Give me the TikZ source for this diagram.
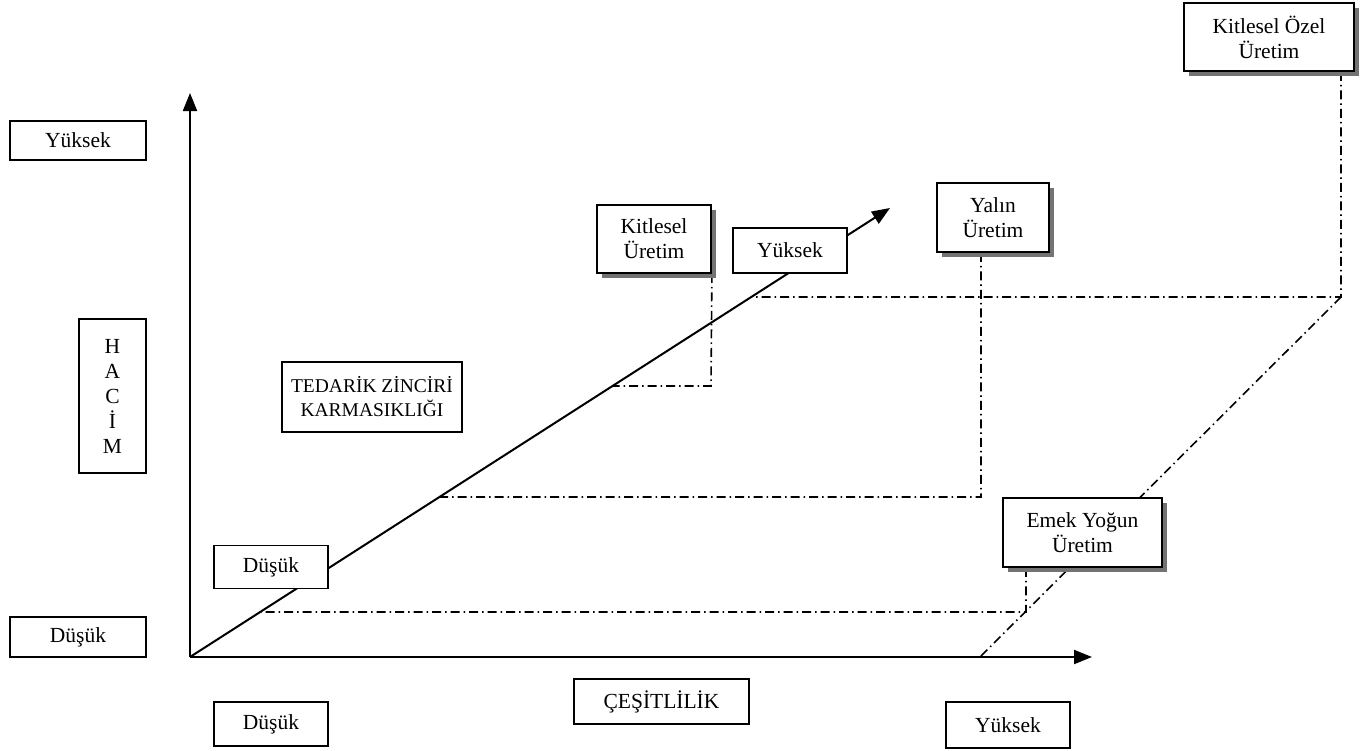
\documentclass[tikz,border=0pt]{standalone}
\usepackage{fontspec}
\setmainfont{Liberation Serif}
\usetikzlibrary{arrows.meta,shadows,backgrounds}
\begin{document}
\begin{tikzpicture}[x=1pt,y=-1pt,
  box/.style={draw,line width=1.8pt,fill=white,align=center,inner sep=0pt,
    font=\fontsize{21.5}{25}\selectfont},
  shbox/.style={box,drop shadow={shadow xshift=4.5pt,shadow yshift=-4.5pt,fill=black!55,opacity=1}},
  axis/.style={line width=2pt,-{Triangle[length=18pt,width=14pt]}},
  guide/.style={line width=1.6pt,dash pattern=on 9pt off 4pt on 1.5pt off 4pt}]
\useasboundingbox (0,0) rectangle (1360,750);

% axis labels
\node[box,minimum width=136pt,minimum height=39pt] (yhL) at (78,140.5) {Yüksek};
\node[box,minimum width=136pt,minimum height=40pt] (dsL) at (78,637) {Düşük};
\node[box,minimum width=67pt,minimum height=154pt] (hacim) at (112.5,396) {H\\A\\C\\İ\\M};
\node[box,minimum width=180pt,minimum height=70pt,font=\fontsize{19.5}{24}\selectfont] (tzk) at (372,397) {TEDARİK ZİNCİRİ\\KARMASIKLIĞI};
\node[box,minimum width=114pt,minimum height=43pt] (dsD) at (271,567) {Düşük};
\node[box,minimum width=114pt,minimum height=44pt] (dsB) at (271,724) {Düşük};
\node[box,minimum width=175pt,minimum height=45pt] (cesit) at (661.5,701.5) {ÇEŞİTLİLİK};
\node[box,minimum width=124pt,minimum height=46pt] (ykB) at (1008,725) {Yüksek};
\node[box,minimum width=114pt,minimum height=45pt] (ykD) at (790,250.5) {Yüksek};

% production types
\node[shbox,minimum width=114pt,minimum height=68pt] (kitU) at (654,239) {Kitlesel\\Üretim};
\node[shbox,minimum width=112pt,minimum height=69pt] (yalin) at (993,217.5) {Yalın\\Üretim};
\node[shbox,minimum width=170pt,minimum height=68pt] (kitO) at (1269,37) {Kitlesel Özel\\Üretim};
\node[shbox,minimum width=159pt,minimum height=69pt] (emek) at (1082.5,532.5) {Emek Yoğun\\Üretim};

% axes and guide points
\coordinate (O) at (190,657);
\coordinate (yT) at (190,93);
\coordinate (xT) at (1092,657);
\coordinate (dT) at (890,208);
\coordinate (xd) at (980,657);
\coordinate (c1) at (711,386);
\coordinate (c1l) at (0,386);
\coordinate (c2) at (981,497);
\coordinate (c2l) at (0,497);
\coordinate (c3) at (1341,297);
\coordinate (c3l) at (0,297);
\coordinate (c4) at (1026,612);
\coordinate (c4l) at (0,612);

\begin{scope}[on background layer]
  \draw[axis] (O) -- (yT);
  \draw[axis] (O) -- (xT);
  \draw[axis] (O) -- (dT);
  \draw[guide] (kitU.south east) -- (c1) -- (intersection of O--dT and c1--c1l);
  \draw[guide] (yalin.south -| c2) -- (c2) -- (intersection of O--dT and c2--c2l);
  \draw[guide] (kitO.south -| c3) -- (c3) -- (intersection of O--dT and c3--c3l);
  \draw[guide] (emek.south -| c4) -- (c4) -- (intersection of O--dT and c4--c4l);
  \draw[guide] (c3) -- (xd);
\end{scope}
\end{tikzpicture}
\end{document}
